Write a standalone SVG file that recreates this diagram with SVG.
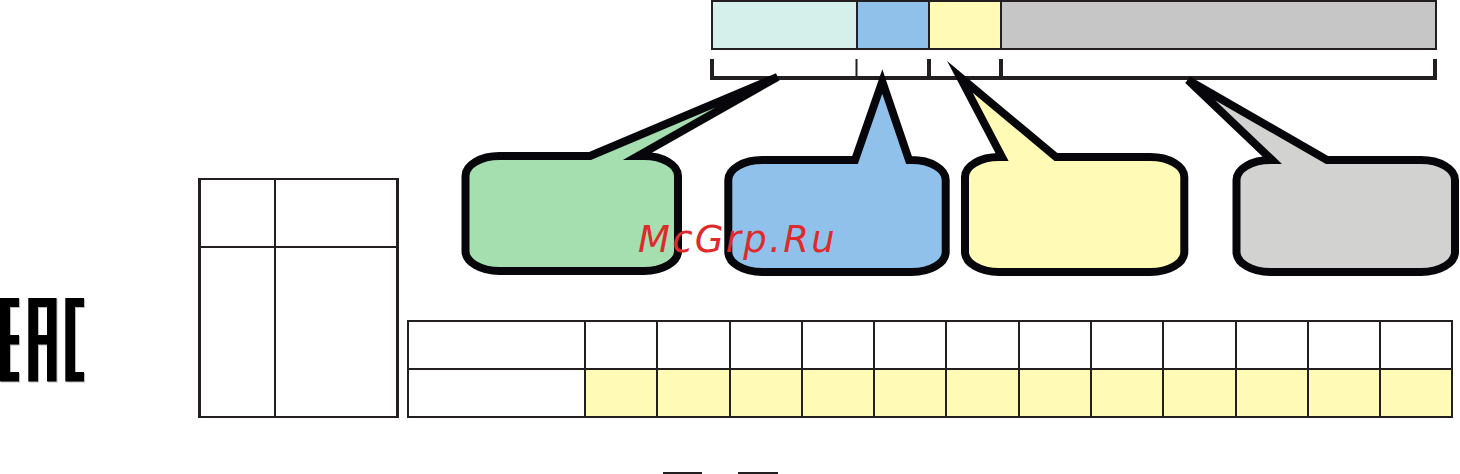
<svg xmlns="http://www.w3.org/2000/svg" width="1460" height="474" viewBox="0 0 1460 474">
<style>
.ln{fill:none;stroke:#231f20;stroke-width:2}
.ln3{fill:none;stroke:#231f20;stroke-width:3}
.ln4{fill:none;stroke:#231f20;stroke-width:4}
.bub{stroke:#07060a;stroke-width:8;stroke-linejoin:miter;stroke-miterlimit:6}
.eac{fill:#000}
.eacs{fill:#b9b9b9}
.wm{font-family:"DejaVu Sans",sans-serif;font-style:oblique;font-size:37px;letter-spacing:2.3px;fill:#dd2a2a}
</style>
<defs>
<path id="eac" d="M0 298H19V307H10V335H19V344.500H10V372H19V381.500H0ZM28.300 298H56.500V381.500H47V344.500H38V381.500H28.300ZM38 307V335H47V307ZM65.300 298H84V307H75V372H84V381.500H65.300Z" fill-rule="evenodd"/>
</defs>
<rect width="1460" height="474" fill="#fff"/>

<g id="eac-mark">
<use href="#eac" class="eacs" x="1" y="1"/>
<use href="#eac" class="eac"/>
</g>

<g id="top-bar">
<rect x="712" y="1" width="145" height="48" fill="#d5f0ea"/>
<rect x="857" y="1" width="72" height="48" fill="#90c1ea"/>
<rect x="929" y="1" width="72" height="48" fill="#fffab5"/>
<rect x="1001" y="1" width="435" height="48" fill="#c6c6c6"/>
<path class="ln" d="M712 1H1436V49H712ZM857 1V49M929 1V49M1001 1V49"/>
</g>

<g id="connectors">
<path class="ln4" d="M712 59V78M710 78H1437M1435 59V78M929 59V78M1001 59V78"/>
<path class="ln" d="M856.500 59V78"/>
</g>

<g id="left-table">
<rect x="199" y="179" width="199" height="238" fill="#fff"/>
<path class="ln" d="M198 179H399M198 417H399M275 179V417M199.500 247H397.500"/>
<path class="ln3" d="M199.500 178V418M397.500 178V418"/>
</g>

<g id="bottom-table">
<rect x="585" y="369" width="867" height="48" fill="#fffab5"/>
<path class="ln" d="M408 321H1452V417H408ZM408 369H1452M585 321V417M657 321V417M730 321V417M802 321V417M874 321V417M946 321V417M1019 321V417M1091 321V417M1163 321V417M1236 321V417M1308 321V417M1380 321V417"/>
</g>

<g id="bottom-lines">
<path class="ln" d="M663 473H702M738 473H778"/>
</g>

<g id="bubble-green">
<path class="bub" fill="#a5dfb0" d="M590 156L777.500 77L638 156H644A34 20 0 0 1 678 176V251A34 20 0 0 1 644 271H499.500A34 20 0 0 1 465.500 251V176A34 20 0 0 1 499.500 156Z"/>
</g>
<g id="bubble-blue">
<path class="bub" fill="#90c1ea" d="M855 160L882.300 81.500L909 160H911.700A34 20 0 0 1 945.700 180V252A34 20 0 0 1 911.700 272H762.300A34 20 0 0 1 728.300 252V180A34 20 0 0 1 762.300 160Z"/>
</g>
<g id="bubble-yellow">
<path class="bub" fill="#fffab5" d="M1002 157L960 77L1056 157H1150.300A34 20 0 0 1 1184.300 177V252A34 20 0 0 1 1150.300 272H999A34 20 0 0 1 965 252V177A34 20 0 0 1 999 157Z"/>
</g>
<g id="bubble-gray">
<path class="bub" fill="#d2d2d0" d="M1272 160L1188 80L1327 160H1421A34 20 0 0 1 1455 180V252A34 20 0 0 1 1421 272H1270.500A34 20 0 0 1 1236.500 252V180A34 20 0 0 1 1270.500 160Z"/>
</g>

<text class="wm" x="638" y="251.500">McGrp.Ru</text>
</svg>
